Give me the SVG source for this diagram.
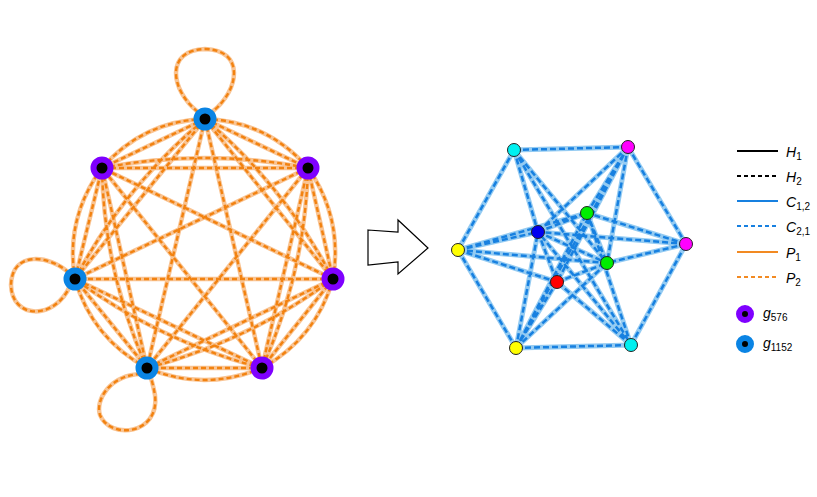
<svg xmlns="http://www.w3.org/2000/svg" xmlns:xlink="http://www.w3.org/1999/xlink" width="817" height="497" viewBox="0 0 817 497">
<style>
.p1{fill:none;stroke:#f9c493;stroke-width:4.5}
.p2{fill:none;stroke:#f28210;stroke-width:2.4;stroke-dasharray:5 3}
.c1{fill:none;stroke:#94cbf2;stroke-width:5}
.c2{fill:none;stroke:#1780e0;stroke-width:2.5;stroke-dasharray:6 3}
.gp{fill:#000;stroke:#7f00ff;stroke-width:6}
.gb{fill:#000;stroke:#0a84e4;stroke-width:6}
.rn{stroke:#222;stroke-width:1}
.t{font-family:"Liberation Sans",Arial,sans-serif;font-size:14px;font-style:italic}
.s{font-size:10px;font-style:normal}
</style>
<defs>
<g id="le">
<path d="M205,119L308,168M205,119L333,279M205,119L262,368M205,119L147,368M205,119L75,279M205,119L102,168M308,168L333,279M308,168L262,368M308,168L147,368M308,168L75,279M308,168L102,168M333,279L262,368M333,279L147,368M333,279L75,279M333,279L102,168M262,368L147,368M262,368L75,279M262,368L102,168M147,368L75,279M147,368L102,168M75,279L102,168"/>
<path d="M205,119Q267,121 308,168M308,168Q343,218 333,279M333,279Q316,338 262,368M262,368Q204,392 147,368M147,368Q92,338 75,279M75,279Q65,218 102,168M102,168Q143,121 205,119"/>
<path d="M205,119Q285,187 333,279M308,168Q305,272 262,368M333,279Q249,341 147,368M262,368Q159,341 75,279M147,368Q104,272 102,168M75,279Q124,187 205,119M102,168Q205,148 308,168"/>
<path d="M198,112C170,90 165,50 205,49C245,50 240,90 212,112"/>
<path d="M69,273C50,255 12,250 11,285C12,320 55,320 70,286"/>
<path d="M141,374C110,375 95,400 100,415C110,440 160,435 155,395C153,385 152,380 150,376"/>
</g>
<g id="re">
<path d="M514,150L628,147M514,150L458,250M514,150L538,232M514,150L607,263M514,150L631,345M628,147L538,232M628,147L557,282M628,147L516,348M628,147L686,244M628,147L607,263M628,147L587,213M458,250L538,232M458,250L587,213M458,250L607,263M458,250L557,282M458,250L516,348M516,348L631,345M516,348L538,232M516,348L587,213M516,348L607,263M516,348L557,282M631,345L686,244M631,345L538,232M631,345L557,282M631,345L587,213M686,244L538,232M686,244L587,213M686,244L607,263M538,232L587,213M538,232L607,263M538,232L557,282M557,282L607,263M587,213L607,263"/>
</g>
</defs>
<g id="connectors">
<use xlink:href="#le" class="p1"/>
<use xlink:href="#le" class="p2"/>
<use xlink:href="#re" class="c1"/>
<use xlink:href="#re" class="c2"/>
</g>
<g id="left-nodes">
<circle id="L1" cx="205" cy="119" r="8.5" class="gb"/>
<circle id="L2" cx="308" cy="168" r="8.5" class="gp"/>
<circle id="L3" cx="333" cy="279" r="8.5" class="gp"/>
<circle id="L4" cx="262" cy="368" r="8.5" class="gp"/>
<circle id="L5" cx="147" cy="368" r="8.5" class="gb"/>
<circle id="L6" cx="75" cy="279" r="8.5" class="gb"/>
<circle id="L7" cx="102" cy="168" r="8.5" class="gp"/>
</g>
<g id="arrow"><path d="M368,230L398,232L398,220L428,248L398,274L398,262L368,265Z" fill="#fff" stroke="#000" stroke-width="1.2"/></g>
<g id="right-nodes">
<circle id="R1" cx="514" cy="150" r="6.5" fill="#00f0f0" class="rn"/>
<circle id="R2" cx="628" cy="147" r="6.5" fill="#ff00ff" class="rn"/>
<circle id="R3" cx="587" cy="213" r="6.5" fill="#00ee00" class="rn"/>
<circle id="R4" cx="538" cy="232" r="6.5" fill="#0000f0" class="rn"/>
<circle id="R5" cx="686" cy="244" r="6.5" fill="#ff00ff" class="rn"/>
<circle id="R6" cx="458" cy="250" r="6.5" fill="#ffff00" class="rn"/>
<circle id="R7" cx="607" cy="263" r="6.5" fill="#00ee00" class="rn"/>
<circle id="R8" cx="557" cy="282" r="6.5" fill="#ff0000" class="rn"/>
<circle id="R9" cx="516" cy="348" r="6.5" fill="#ffff00" class="rn"/>
<circle id="R10" cx="631" cy="345" r="6.5" fill="#00f0f0" class="rn"/>
</g>
<g id="legend">
<line x1="737" y1="151" x2="778" y2="151" stroke="#000" stroke-width="2"/>
<line x1="737" y1="176" x2="778" y2="176" stroke="#000" stroke-width="2" stroke-dasharray="4 3"/>
<line x1="737" y1="201" x2="778" y2="201" stroke="#1780e0" stroke-width="2"/>
<line x1="737" y1="226" x2="778" y2="226" stroke="#1780e0" stroke-width="2" stroke-dasharray="4 3"/>
<line x1="737" y1="252" x2="778" y2="252" stroke="#f28a22" stroke-width="2"/>
<line x1="737" y1="277" x2="778" y2="277" stroke="#f28a22" stroke-width="2" stroke-dasharray="4 3"/>
<text x="786" y="157" class="t">H<tspan class="s" dy="3">1</tspan></text>
<text x="786" y="182" class="t">H<tspan class="s" dy="3">2</tspan></text>
<text x="786" y="207" class="t">C<tspan class="s" dy="3">1,2</tspan></text>
<text x="786" y="232" class="t">C<tspan class="s" dy="3">2,1</tspan></text>
<text x="786" y="258" class="t">P<tspan class="s" dy="3">1</tspan></text>
<text x="786" y="283" class="t">P<tspan class="s" dy="3">2</tspan></text>
<circle cx="745" cy="314" r="6" class="gp"/>
<circle cx="745" cy="344" r="6" class="gb"/>
<text x="763" y="318" class="t">g<tspan class="s" dy="3">576</tspan></text>
<text x="763" y="348" class="t">g<tspan class="s" dy="3">1152</tspan></text>
</g>
</svg>
